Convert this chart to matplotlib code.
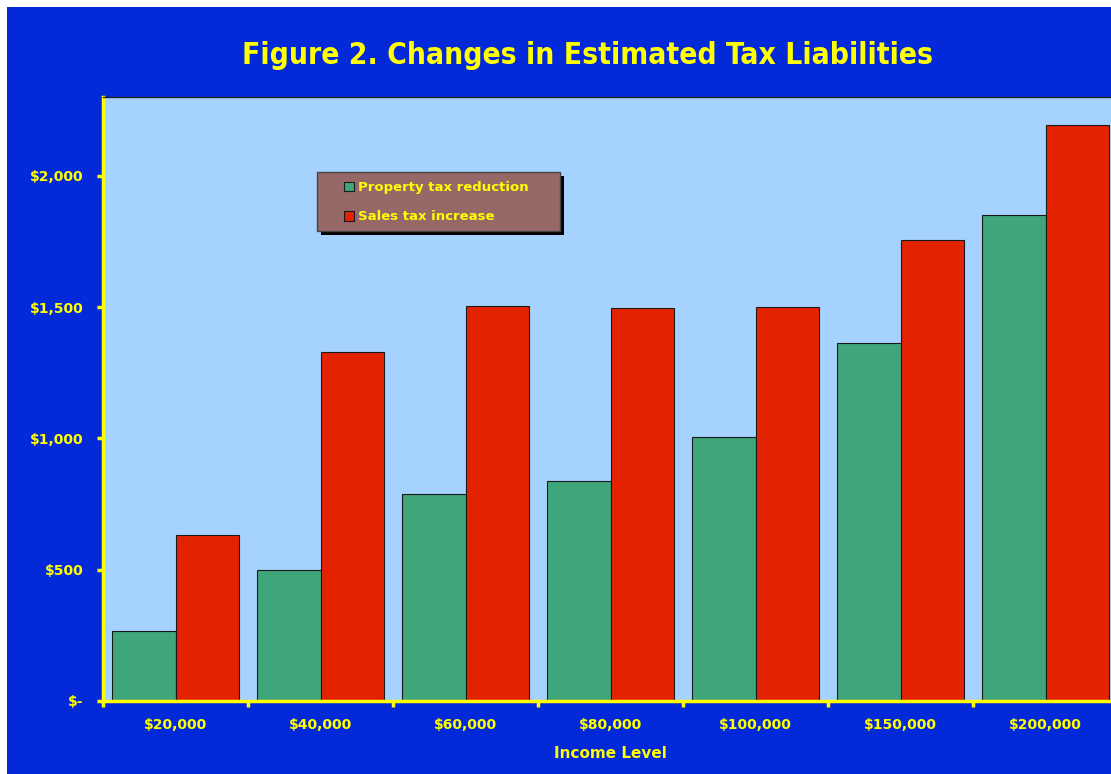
import matplotlib.pyplot as plt
import matplotlib.patches as mpatches
import numpy as np

income = ["$20,000", "$40,000", "$60,000", "$80,000", "$100,000", "$150,000", "$200,000"]
property_cut = [267, 500, 789, 838, 1006, 1364, 1851]
sales_rise = [632, 1330, 1505, 1497, 1501, 1756, 2194]
y_ticks = [0, 500, 1000, 1500, 2000]
y_labels = ["$-", "$500", "$1,000", "$1,500", "$2,000"]

blue = "#0329D8"
yellow = "#FFFF00"
green = "#3FA57A"
red = "#E32200"

plt.rcParams['font.family'] = ['DejaVu Sans']
plt.rcParams['font.weight'] = 'bold'

W, H = 1111, 774
fig = plt.figure(figsize=(W / 100, H / 100), dpi=100, facecolor="white")
# blue panel with a thin white border on top and left
fig.patches.append(mpatches.Rectangle((7/W, 0), 1, 1 - 7/H, transform=fig.transFigure,
                                      facecolor=blue, edgecolor="none", zorder=-10))

ax = fig.add_axes([103/W, 73/H, 1015/W, 604/H])
ax.set_zorder(1)
ax.set_facecolor("#A6D2FF")

ind = np.arange(len(income))
w = 0.435
ax.bar(ind - w/2, property_cut, w, color=green, edgecolor="#1a1a1a", linewidth=0.8, label="Property tax reduction")
ax.bar(ind + w/2, sales_rise, w, color=red, edgecolor="#1a1a1a", linewidth=0.8, label="Sales tax increase")

ax.set_xlim(-0.5, len(income) - 0.5)
ax.set_ylim(0, 2300)

ax.set_yticks(y_ticks)
ax.set_yticklabels(y_labels)
ax.set_xticks(ind)
ax.set_xticklabels(income)
ax.set_xticks(np.arange(len(income) + 1) - 0.5, minor=True)
ax.tick_params(axis="x", which="major", length=0, pad=12, labelsize=10, labelcolor=yellow)
ax.tick_params(axis="x", which="minor", length=4, width=2.5, color=yellow, direction="out")
ax.tick_params(axis="y", length=4, width=2.5, color=yellow, labelsize=10, labelcolor=yellow, pad=10)

for s in ["left", "bottom"]:
    ax.spines[s].set_color(yellow)
    ax.spines[s].set_linewidth(2.5)
ax.spines["top"].set_color("#222222")
ax.spines["top"].set_linewidth(1)
ax.spines["right"].set_visible(False)

ax.set_xlabel("Income Level", color=yellow, fontsize=11, fontweight="bold", labelpad=10)

fig.text(587/W, 1 - 55/H, "Figure 2. Changes in Estimated Tax Liabilities",
         ha="center", va="center", color=yellow, fontsize=21.5, fontweight="bold",
         fontstretch="condensed")

# legend box with a hard black shadow
box_x, box_y, box_w, box_h = 317, 172, 243, 59
fig.patches.append(mpatches.Rectangle(((box_x + 4)/W, 1 - (box_y + box_h + 4)/H), box_w/W, box_h/H,
                                      transform=fig.transFigure, facecolor="black",
                                      edgecolor="none", zorder=5))
fig.patches.append(mpatches.Rectangle((box_x/W, 1 - (box_y + box_h)/H), box_w/W, box_h/H,
                                      transform=fig.transFigure, facecolor="#966868",
                                      edgecolor="#444444", linewidth=1, zorder=6))

leg = fig.legend(*ax.get_legend_handles_labels(), loc="upper left",
                 bbox_to_anchor=(344/W, 1 - 181/H), borderaxespad=0, borderpad=0,
                 frameon=False, handlelength=0.75, handleheight=0.75,
                 handletextpad=0.3, labelspacing=1.25,
                 prop={"size": 9.5, "weight": "bold"})
leg.set_zorder(7)
for t in leg.get_texts():
    t.set_color(yellow)

fig.savefig("out.png", dpi=100, facecolor=fig.get_facecolor())
